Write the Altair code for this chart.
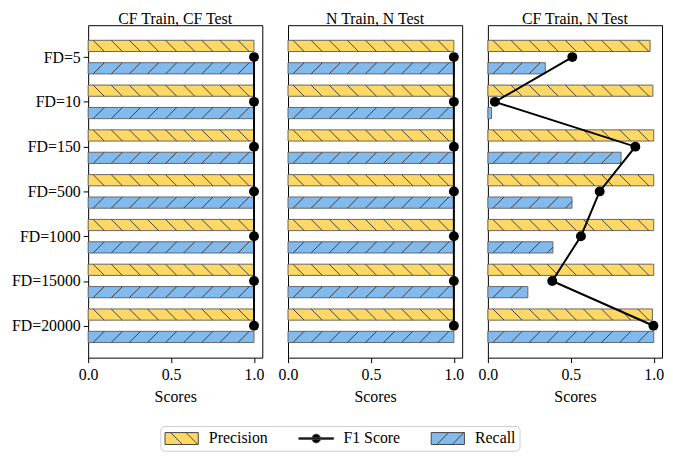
import json
import altair as alt
import pandas as pd

categories = ["FD=5", "FD=10", "FD=150", "FD=500", "FD=1000", "FD=15000", "FD=20000"]
panels = ["CF Train, CF Test", "N Train, N Test", "CF Train, N Test"]
series = ["Precision", "F1 Score", "Recall"]

precision_vals = {
    "CF Train, CF Test": [1.0, 0.998, 0.998, 0.998, 0.998, 0.998, 0.998],
    "N Train, N Test": [1.0, 1.0, 1.0, 1.0, 1.0, 1.0, 1.0],
    "CF Train, N Test": [0.978, 0.995, 1.0, 1.0, 1.0, 1.0, 0.992],
}
recall_vals = {
    "CF Train, CF Test": [0.998, 0.998, 0.998, 0.998, 0.998, 0.998, 1.0],
    "N Train, N Test": [1.0, 1.0, 1.0, 1.0, 1.0, 1.0, 1.0],
    "CF Train, N Test": [0.346, 0.022, 0.803, 0.507, 0.392, 0.241, 1.0],
}
f1_vals = {
    "CF Train, CF Test": [1.0, 1.0, 1.0, 1.0, 1.0, 1.0, 1.0],
    "N Train, N Test": [1.0, 1.0, 1.0, 1.0, 1.0, 1.0, 1.0],
    "CF Train, N Test": [0.509, 0.042, 0.889, 0.674, 0.561, 0.388, 0.998],
}

YELLOW = "#fdd865"
BLUE = "#82baee"
EDGE = "#666666"
HATCH = "#333333"
FONT = "Liberation Serif"

PW, PH = 176, 336
XMAX = 1.05
YMIN, YMAX = -0.7125, 6.7125
BAR_H = 0.25

# ---- build tables from the arrays ----
bar_rows, f1_rows = [], []
for p in panels:
    for i, c in enumerate(categories):
        bar_rows.append(dict(panel=p, cat=c, idx=i, metric="Precision",
                             value=precision_vals[p][i],
                             y_top=i - 0.25 - BAR_H / 2, y_bot=i - 0.25 + BAR_H / 2))
        bar_rows.append(dict(panel=p, cat=c, idx=i, metric="Recall",
                             value=recall_vals[p][i],
                             y_top=i + 0.25 - BAR_H / 2, y_bot=i + 0.25 + BAR_H / 2))
        f1_rows.append(dict(panel=p, cat=c, idx=i, value=f1_vals[p][i]))
bars_df = pd.DataFrame(bar_rows)
bars_df["zero"] = 0.0
f1_df = pd.DataFrame(f1_rows)

# hatch segments (style) derived from each bar's extent
px_x = PW / XMAX
px_y = PH / (YMAX - YMIN)
spacing = 18.3 / px_x
dx = (BAR_H * px_y) / px_x
h_rows = []
for r in bar_rows:
    v = r["value"]
    k = -2
    while True:
        x0 = 0.03 + k * spacing
        if x0 > v:
            break
        t_lo = max(0.0, (0 - x0) / dx)
        t_hi = min(1.0, (v - x0) / dx)
        if t_hi > t_lo:
            if r["metric"] == "Precision":   # "\" : top-left to bottom-right
                ya = r["y_top"] + t_lo * (r["y_bot"] - r["y_top"])
                yb = r["y_top"] + t_hi * (r["y_bot"] - r["y_top"])
            else:                             # "/" : bottom-left to top-right
                ya = r["y_bot"] - t_lo * (r["y_bot"] - r["y_top"])
                yb = r["y_bot"] - t_hi * (r["y_bot"] - r["y_top"])
            h_rows.append(dict(panel=r["panel"], hx=x0 + t_lo * dx, hx2=x0 + t_hi * dx,
                               hy=ya, hy2=yb))
        k += 1
hatch_df = pd.DataFrame(h_rows)

legend_df = pd.DataFrame({"series": series})

xs = alt.Scale(domain=[0, XMAX], nice=False, zero=False)
ys = alt.Scale(domain=[YMIN, YMAX], reverse=True, nice=False, zero=False)

label_expr = json.dumps(categories) + "[datum.value]"

# legend symbols: size 256 -> unit = 8px; width 34px, height 12px
SYM_P = ("M-2.1,-0.75H2.1V0.75H-2.1Z M-1.4,-0.75L0.1,0.75 M0.55,-0.75L2.05,0.75")
SYM_F = ("M-2.2,-0.1H2.2V0.1H-2.2Z "
         "M0.55,0A0.55,0.55 0 1,1 -0.55,0A0.55,0.55 0 1,1 0.55,0Z")
SYM_R = ("M-2.1,-0.75H2.1V0.75H-2.1Z M-1.4,0.75L0.1,-0.75 M0.55,0.75L2.05,-0.75")


def panel_chart(p, first):
    if first:
        yaxis = alt.Axis(values=list(range(len(categories))), labelExpr=label_expr,
                         title=None, grid=False, tickSize=5, labelPadding=3,
                         minExtent=80, maxExtent=80, domain=False)
    else:
        yaxis = None
    xaxis = alt.Axis(values=[0, 0.5, 1.0], format=".1f", title="Scores", grid=False,
                     tickSize=5, labelPadding=4, titlePadding=6, domain=False,
                     labelFlush=False)

    bdf = bars_df[bars_df.panel == p]
    bars = alt.Chart(bdf).mark_rect(stroke=EDGE, strokeWidth=1).encode(
        x=alt.X("zero:Q", scale=xs, axis=xaxis),
        x2="value:Q",
        y=alt.Y("y_top:Q", scale=ys, axis=yaxis),
        y2="y_bot:Q",
        fill=alt.Fill("metric:N", scale=alt.Scale(domain=["Precision", "Recall"],
                                                  range=[YELLOW, BLUE]), legend=None),
    )
    hatch = alt.Chart(hatch_df[hatch_df.panel == p]).mark_rule(
        color=HATCH, strokeWidth=1, opacity=0.9).encode(
        x=alt.X("hx:Q", scale=xs), x2="hx2:Q",
        y=alt.Y("hy:Q", scale=ys), y2="hy2:Q",
    )
    fdf = f1_df[f1_df.panel == p]
    line = alt.Chart(fdf).mark_line(color="black", strokeWidth=2).encode(
        x=alt.X("value:Q", scale=xs), y=alt.Y("idx:Q", scale=ys), order="idx:Q")
    pts = alt.Chart(fdf).mark_circle(color="black", size=100, opacity=1).encode(
        x=alt.X("value:Q", scale=xs), y=alt.Y("idx:Q", scale=ys))
    layers = [bars, hatch, line, pts]
    if first:
        leg = alt.Chart(legend_df).mark_point(filled=True, opacity=1).encode(
            x=alt.X("value:Q", scale=xs),
            y=alt.Y("idx:Q", scale=ys),
            color=alt.Color("series:N", sort=series,
                            scale=alt.Scale(domain=series, range=[YELLOW, "black", BLUE]),
                            legend=alt.Legend(
                                title=None, orient="none", direction="horizontal",
                                legendX=73, legendY=405,
                                symbolSize=256, symbolStrokeColor="#444",
                                symbolStrokeWidth=1, symbolOffset=9,
                                labelOffset=19, columnPadding=28,
                                labelFont=FONT, labelFontSize=16, labelColor="black",
                                strokeColor="#cccccc", cornerRadius=4, padding=4,
                                fillColor="white")),
            shape=alt.Shape("series:N", sort=series,
                            scale=alt.Scale(domain=series, range=[SYM_P, SYM_F, SYM_R]),
                            legend=None),
        ).transform_filter("false")
        layers.append(leg)
    return alt.layer(*layers).properties(width=PW, height=PH, title=p)


chart = alt.hconcat(
    *[panel_chart(p, i == 0) for i, p in enumerate(panels)],
    spacing=26, bounds="flush",
).resolve_scale(color="shared", shape="shared").properties(
    padding={"left": 0, "top": 0, "right": 0, "bottom": 0}
).configure_view(
    stroke="black", strokeWidth=1
).configure_axis(
    labelFont=FONT, labelFontSize=16, labelColor="black",
    titleFont=FONT, titleFontSize=16, titleFontWeight="normal", titleColor="black",
    tickColor="black", domainColor="black",
).configure_title(
    font=FONT, fontSize=16, fontWeight="normal", color="black", offset=-2
)

chart.save("out.html", embed_options={"renderer": "svg", "actions": False})
